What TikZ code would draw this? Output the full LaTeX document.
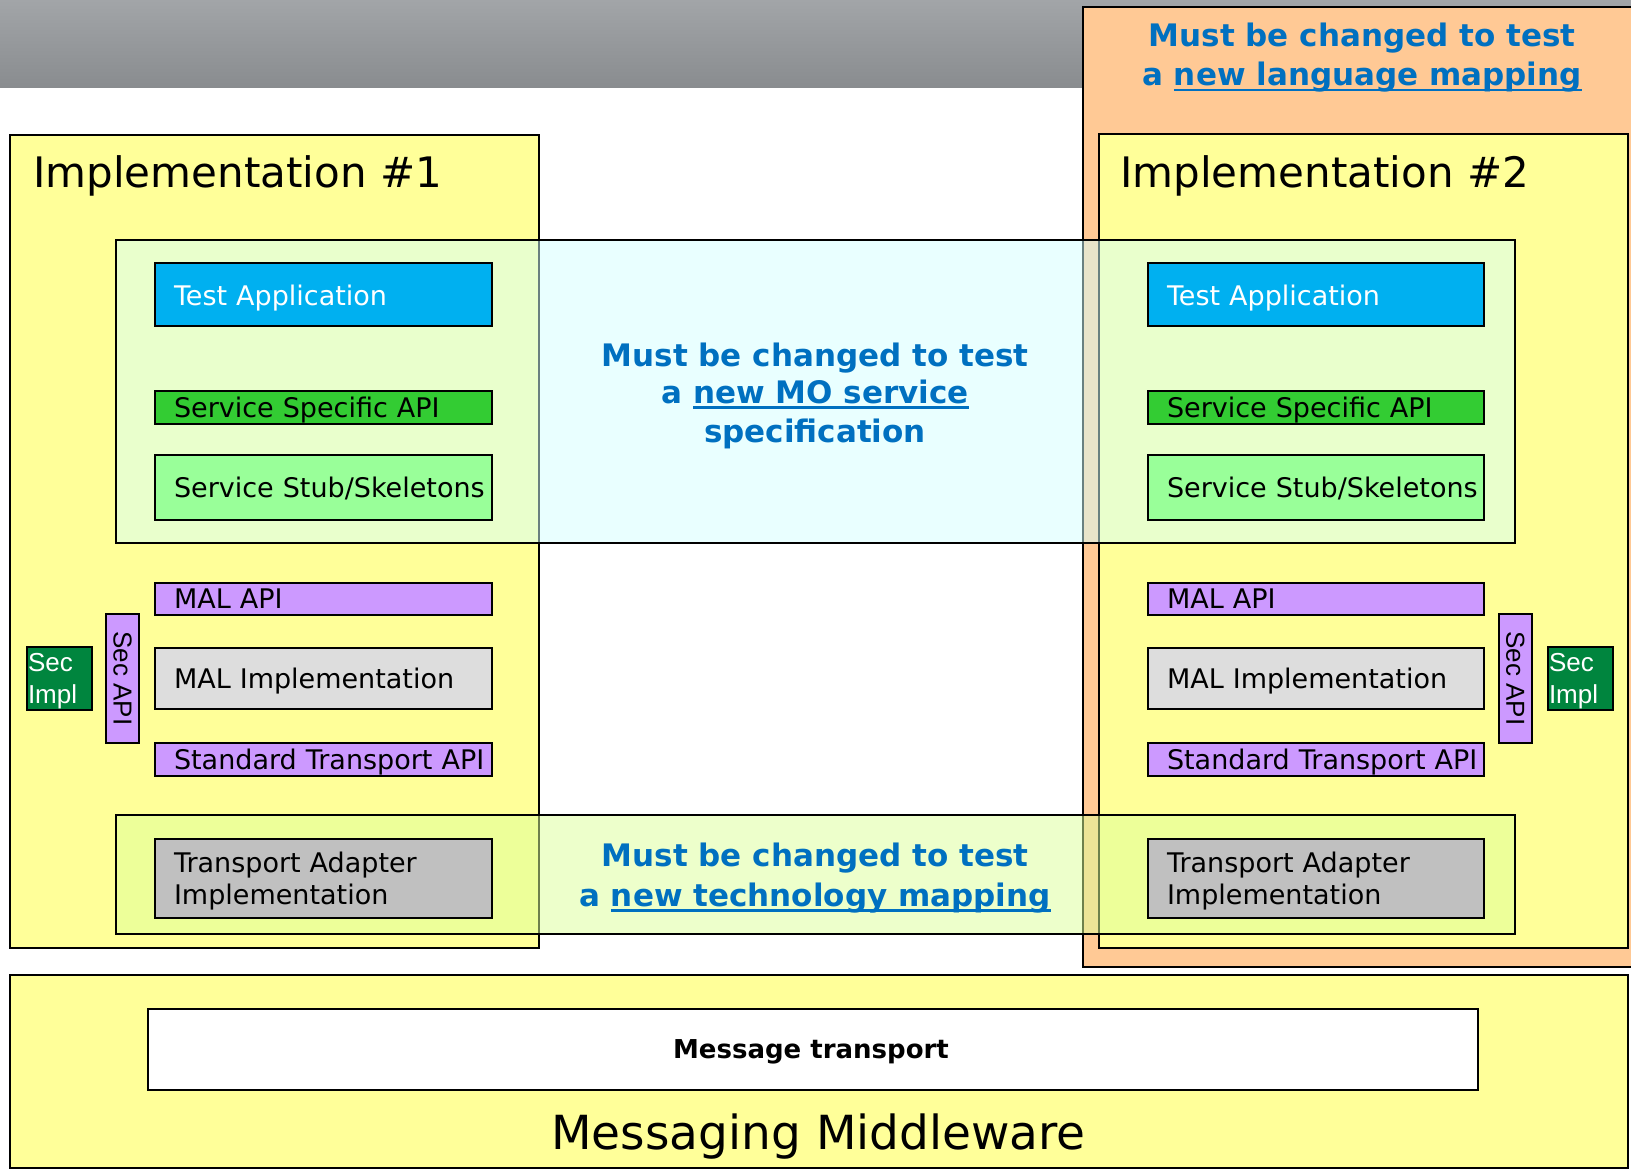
\documentclass[tikz,border=0pt]{standalone}
\usepackage{fontspec}
\setmainfont{DejaVu Sans}
\newfontfamily\arialf{Liberation Sans}
\definecolor{myyellow}{HTML}{FFFF99}
\definecolor{mypeach}{HTML}{FFC995}
\definecolor{tablue}{HTML}{00B0F0}
\definecolor{ssgreen}{HTML}{33CC33}
\definecolor{stubgreen}{HTML}{99FF99}
\definecolor{lilac}{HTML}{CC99FF}
\definecolor{malgray}{HTML}{DDDDDD}
\definecolor{tagray}{HTML}{C0C0C0}
\definecolor{secgreen}{HTML}{00853E}
\definecolor{txtblue}{HTML}{0070C0}
\definecolor{ovcyan}{RGB}{213,255,255}
\definecolor{ovgreen}{RGB}{221,255,153}
\definecolor{bartop}{RGB}{162,165,168}
\definecolor{barbot}{RGB}{137,140,143}
\newcommand\myuline[1]{\setbox0=\hbox{#1}\rlap{\rule[-5.5pt]{\wd0}{2.4pt}}\box0}
\tikzset{
  frame/.style={draw=black, line width=2pt},
  layerbox/.style={frame, anchor=north west, inner xsep=19pt, inner ysep=0pt,
    text depth=0pt, align=left, font=\fontsize{27}{31.7}\selectfont},
  twoline/.style={text depth=31.7pt},
  lw/.style={text width=299pt},
  rw/.style={text width=298pt},
  secapi/.style={frame, fill=lilac, rotate=-90, minimum width=129pt, minimum height=33pt,
    inner sep=0pt, font=\arialf\fontsize{26}{30}\selectfont},
  secimpl/.style={frame, fill=secgreen, text=white, anchor=north west, minimum height=63pt,
    text width=63pt, inner xsep=1pt, inner ysep=0pt, align=left, text depth=31.6pt,
    font=\arialf\fontsize{26}{31.6}\selectfont},
  bluetxt/.style={anchor=base, inner sep=0pt, text=txtblue, font=\bfseries\fontsize{31}{38}\selectfont},
  title/.style={anchor=base west, inner sep=0pt, font=\fontsize{42}{50}\selectfont},
}
\begin{document}
\begin{tikzpicture}[x=1pt, y=-1pt]
\clip (0,0) rectangle (1631,1169);
\fill[white] (0,0) rectangle (1631,1169);
% header bar
\shade[top color=bartop, bottom color=barbot] (0,0) rectangle (1631,87.5);
% containers
\draw[frame, fill=mypeach] (1083,6.7) rectangle (1650,966.7);
\draw[frame, fill=myyellow] (10,134.6) rectangle (538.6,948);
\draw[frame, fill=myyellow] (1099,134.3) rectangle (1627.5,948);
\draw[frame, fill=myyellow] (10.4,974.5) rectangle (1628,1168);
\node[frame, fill=white, anchor=north west, minimum width=1330.3pt, minimum height=80.5pt, inner sep=0pt] (mt) at (146.7,1008) {};
% overlays
\draw[frame, fill=ovcyan, fill opacity=0.5] (115.7,240.5) rectangle (1515,542.7);
\draw[frame, fill=ovgreen, fill opacity=0.5] (115.5,814.5) rectangle (1515,934);
% titles
\node[title] (impl1) at (33,187.5) {Implementation \#1};
\node[title] (impl2) at (1120,187.5) {Implementation \#2};
% left stack
\node[layerbox, lw, fill=tablue, text=white, minimum height=62.5pt] (ta1) at (154,262.5) {Test Application};
\node[layerbox, lw, fill=ssgreen, minimum height=33pt] (ss1) at (154,390) {Service Specific API};
\node[layerbox, lw, fill=stubgreen, minimum height=64.5pt] (st1) at (154,454) {\mbox{Service Stub/Skeletons}};
\node[layerbox, lw, fill=lilac, minimum height=32pt] (ma1) at (154,582) {MAL API};
\node[layerbox, lw, fill=malgray, minimum height=61pt] (mi1) at (154,647) {MAL Implementation};
\node[layerbox, lw, fill=lilac, minimum height=33pt] (sta1) at (154,742) {\mbox{Standard Transport API}};
\node[layerbox, lw, twoline, fill=tagray, minimum height=79pt] (tai1) at (154,838) {Transport Adapter\\Implementation};
\node[secapi] (sa1) at (122.5,678.5) {Sec API};
\node[secimpl] (si1) at (26,646) {Sec\\Impl};
% right stack
\node[layerbox, rw, fill=tablue, text=white, minimum height=62.5pt] (ta2) at (1147,262.5) {Test Application};
\node[layerbox, rw, fill=ssgreen, minimum height=33pt] (ss2) at (1147,390) {Service Specific API};
\node[layerbox, rw, fill=stubgreen, minimum height=64.5pt] (st2) at (1147,454) {\mbox{Service Stub/Skeletons}};
\node[layerbox, rw, fill=lilac, minimum height=32pt] (ma2) at (1147,582) {MAL API};
\node[layerbox, rw, fill=malgray, minimum height=61pt] (mi2) at (1147,647) {MAL Implementation};
\node[layerbox, rw, fill=lilac, minimum height=33pt] (sta2) at (1147,742) {\mbox{Standard Transport API}};
\node[layerbox, rw, twoline, fill=tagray, minimum height=79pt] (tai2) at (1147,838) {Transport Adapter\\Implementation};
\node[secapi] (sa2) at (1515.4,678.4) {Sec API};
\node[secimpl] (si2) at (1547,646) {Sec\\Impl};
% blue notes
\node[bluetxt] (lm1) at (1362,46.7) {Must be changed to test};
\node[bluetxt] (lm2) at (1362,86) {a \myuline{new language mapping}};
\node[bluetxt] (mo1) at (815,366) {Must be changed to test};
\node[bluetxt] (mo2) at (815,403) {a \myuline{new MO service}};
\node[bluetxt] (mo3) at (815,442) {specification};
\node[bluetxt] (tm1) at (815,866.7) {Must be changed to test};
\node[bluetxt] (tm2) at (815,906) {a \myuline{new technology mapping}};
% middleware
\node[anchor=base, inner sep=0pt, font=\bfseries\fontsize{26}{30}\selectfont] (mtl) at (811,1058) {Message transport};
\node[anchor=base, inner sep=0pt, font=\fontsize{47}{55}\selectfont] (mm) at (818.5,1149) {Messaging Middleware};
\end{tikzpicture}
\end{document}
